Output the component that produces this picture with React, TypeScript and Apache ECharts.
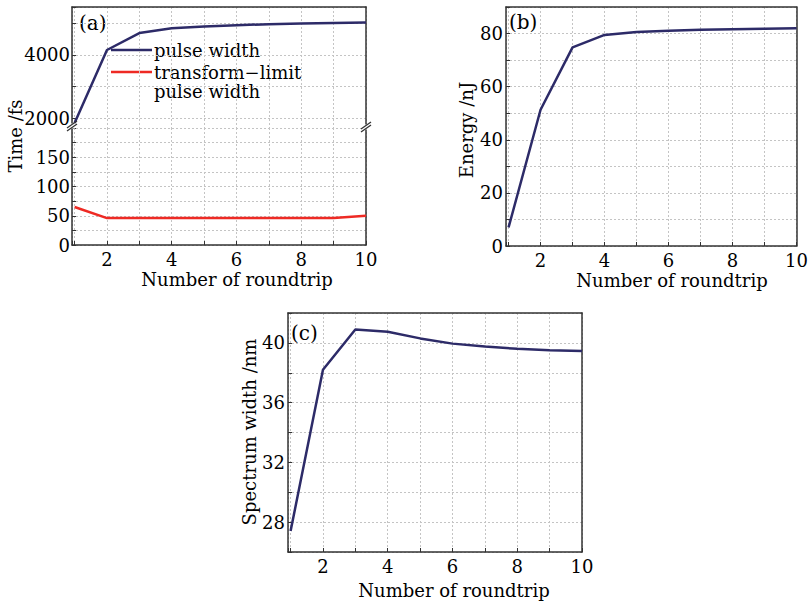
import React, { useEffect, useRef } from "react";
import * as echarts from "echarts";

const roundtrip = [1, 2, 3, 4, 5, 6, 7, 8, 9, 10];
const pulseWidth = [1860, 4150, 4680, 4830, 4885, 4930, 4960, 4980, 4995, 5010];
const transformLimit = [65, 46, 46, 46, 46, 46, 46, 46, 46, 50];
const energy = [7, 51.3, 74.8, 79.5, 80.6, 81.1, 81.4, 81.6, 81.8, 82];
const spectrum = [27.4, 38.2, 40.9, 40.75, 40.3, 39.95, 39.75, 39.6, 39.5, 39.45];

const xTitle = "Number of roundtrip";
const yTitles = ["Time /fs", "Energy /nJ", "Spectrum width /nm"];
const panelLabels = ["(a)", "(b)", "(c)"];
const legendNames = ["pulse width", "transform\u2212limit", "pulse width"];

const FONT = '"DejaVu Serif", serif';
const NAVY = "#2d2b68";
const RED = "#ee2a24";
const FRAME = "#333333";
const GRIDC = "#c4c4c4";

const pair = (ys: number[]) => roundtrip.map((x, i) => [x, ys[i]]);

const evenInt = (v: number) =>
  Math.abs(v - Math.round(v)) < 1e-6 && Math.round(v) % 2 === 0 ? String(Math.round(v)) : "";

const splitLine = { show: true, lineStyle: { color: GRIDC, type: [2, 2] as any, width: 1 } };
const frameLine = { show: true, onZero: false, lineStyle: { color: FRAME, width: 1.5 } };
const tick = { show: true, inside: true, length: 4, lineStyle: { color: FRAME, width: 1 } };
const label = (margin: number, fmt: (v: number) => string) => ({
  show: true,
  margin,
  color: "#000",
  fontFamily: FONT,
  fontSize: 18,
  formatter: fmt,
});

const xMain = (gridIndex: number, showLabels: boolean) => ({
  type: "value",
  gridIndex,
  position: "bottom",
  min: 0.92,
  max: 10,
  splitNumber: 9,
  axisLine: showLabels ? frameLine : { show: false },
  axisTick: showLabels ? tick : { show: false },
  axisLabel: showLabels ? label(5, evenInt) : { show: false },
  splitLine,
});
const xFrame = (gridIndex: number) => ({
  type: "value",
  gridIndex,
  position: "top",
  min: 0,
  max: 1,
  axisLine: frameLine,
  axisTick: { show: false },
  axisLabel: { show: false },
  splitLine: { show: false },
});
const yFrame = (gridIndex: number) => ({
  type: "value",
  gridIndex,
  position: "right",
  min: 0,
  max: 1,
  axisLine: frameLine,
  axisTick: { show: false },
  axisLabel: { show: false },
  splitLine: { show: false },
});

const text = (t: string, x: number, y: number, size: number, rotation = 0, align = "center") => ({
  type: "text",
  x,
  y,
  rotation,
  silent: true,
  style: {
    text: t,
    font: `${size}px ${FONT}`,
    fill: "#000",
    align,
    verticalAlign: "middle",
    textAlign: align,
    textVerticalAlign: "middle",
  },
});

const breakMark = (cx: number, cy: number) => [
  { type: "rect", shape: { x: cx - 3, y: cy - 2.5, width: 6, height: 5 }, style: { fill: "#fff" }, z: 100 },
  { type: "line", shape: { x1: cx - 5, y1: cy - 0.5 + 2.5, x2: cx + 5, y2: cy - 0.5 - 2.5 - 2 }, style: { stroke: FRAME, lineWidth: 1.3 }, z: 101 },
  { type: "line", shape: { x1: cx - 5, y1: cy + 2.5 + 2.5, x2: cx + 5, y2: cy + 2.5 - 2.5 - 2 }, style: { stroke: FRAME, lineWidth: 1.3 }, z: 101 },
];

export default function App() {
  const ref = useRef<HTMLDivElement>(null);
  useEffect(() => {
    if (!ref.current) return;
    const chart = echarts.init(ref.current, undefined, { renderer: "svg" });
    const option: any = {
      animation: false,
      backgroundColor: "#fff",
      grid: [
        { left: 72, top: 7, width: 294, height: 121 },
        { left: 72, top: 128, width: 294, height: 117 },
        { left: 506, top: 7, width: 291, height: 239 },
        { left: 288, top: 313, width: 294, height: 239 },
      ],
      xAxis: [
        xMain(0, false),
        xFrame(0),
        xMain(1, true),
        xMain(2, true),
        xFrame(2),
        xMain(3, true),
        xFrame(3),
      ],
      yAxis: [
        {
          type: "value",
          gridIndex: 0,
          min: 1700,
          max: 5500,
          splitNumber: 4,
          axisLine: frameLine,
          axisTick: tick,
          axisLabel: label(2, (v: number) => (v === 2000 || v === 4000 ? String(v) : "")),
          splitLine,
        },
        yFrame(0),
        {
          type: "value",
          gridIndex: 1,
          min: 0,
          max: 200,
          interval: 25,
          axisLine: frameLine,
          axisTick: tick,
          axisLabel: label(2, (v: number) => (v % 50 === 0 && v < 200 ? String(v) : "")),
          splitLine,
        },
        yFrame(1),
        {
          type: "value",
          gridIndex: 2,
          min: 0,
          max: 90,
          interval: 10,
          axisLine: frameLine,
          axisTick: tick,
          axisLabel: label(3, (v: number) => (v % 20 === 0 ? String(v) : "")),
          splitLine,
        },
        yFrame(2),
        {
          type: "value",
          gridIndex: 3,
          min: 26,
          max: 42,
          interval: 2,
          axisLine: frameLine,
          axisTick: tick,
          axisLabel: label(3, (v: number) => (v % 4 === 0 ? String(v) : "")),
          splitLine,
        },
        yFrame(3),
      ],
      series: [
        {
          name: "pulse width",
          type: "line",
          xAxisIndex: 0,
          yAxisIndex: 0,
          data: pair(pulseWidth),
          showSymbol: false,
          symbol: "none",
          lineStyle: { color: NAVY, width: 2.5 },
          itemStyle: { color: NAVY },
        },
        {
          name: "transform-limit pulse width",
          type: "line",
          xAxisIndex: 2,
          yAxisIndex: 2,
          data: pair(transformLimit),
          showSymbol: false,
          symbol: "none",
          lineStyle: { color: RED, width: 2.5 },
          itemStyle: { color: RED },
        },
        {
          name: "energy",
          type: "line",
          xAxisIndex: 3,
          yAxisIndex: 4,
          data: pair(energy),
          showSymbol: false,
          symbol: "none",
          lineStyle: { color: NAVY, width: 2.5 },
          itemStyle: { color: NAVY },
        },
        {
          name: "spectrum width",
          type: "line",
          xAxisIndex: 5,
          yAxisIndex: 6,
          data: pair(spectrum),
          showSymbol: false,
          symbol: "none",
          lineStyle: { color: NAVY, width: 2.5 },
          itemStyle: { color: NAVY },
        },
      ],
      graphic: [
        text(xTitle, 237, 279, 18),
        text(xTitle, 672, 280, 18),
        text(xTitle, 454, 590, 18),
        text(yTitles[0], 15, 136, 18, Math.PI / 2),
        text(yTitles[1], 466, 130, 18, Math.PI / 2),
        text(yTitles[2], 249, 432, 18, Math.PI / 2),
        text(panelLabels[0], 79, 23, 20, 0, "left"),
        text(panelLabels[1], 509, 22, 20, 0, "left"),
        text(panelLabels[2], 291, 333, 20, 0, "left"),
        { type: "line", shape: { x1: 111, y1: 50, x2: 152, y2: 50 }, style: { stroke: NAVY, lineWidth: 2.5 } },
        { type: "line", shape: { x1: 111, y1: 72, x2: 152, y2: 72 }, style: { stroke: RED, lineWidth: 2.5 } },
        text(legendNames[0], 154, 50, 18, 0, "left"),
        text(legendNames[1], 154, 72, 18, 0, "left"),
        text(legendNames[2], 154, 91, 18, 0, "left"),
        ...breakMark(72, 126),
        ...breakMark(366, 127),
      ],
    };
    chart.setOption(option);
    return () => chart.dispose();
  }, []);
  return (
    <div
      ref={ref}
      style={{ position: "fixed", left: 0, top: 0, width: 811, height: 602 }}
    />
  );
}
